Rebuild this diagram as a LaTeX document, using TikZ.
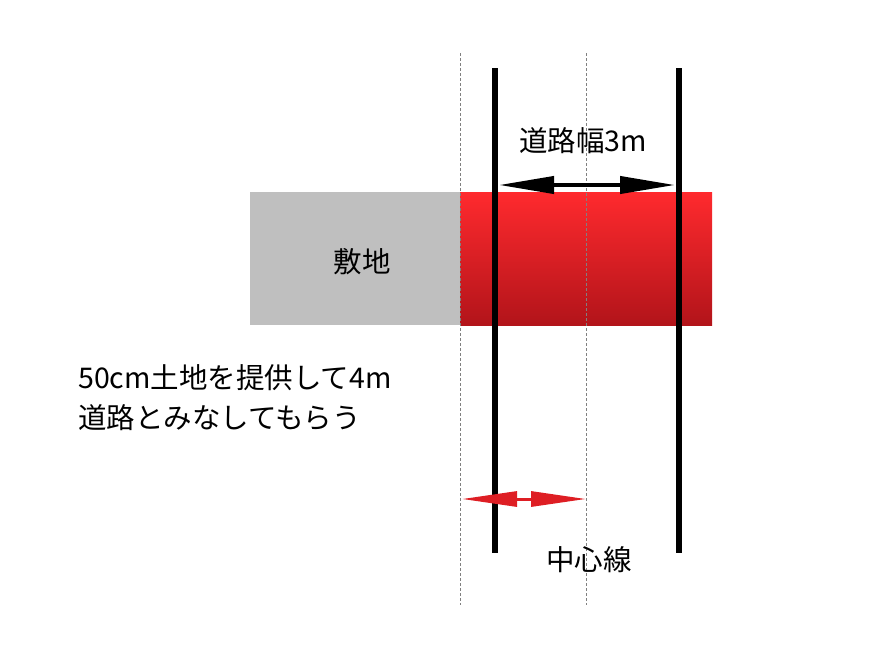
\documentclass[tikz,border=0pt]{standalone}
\usepackage{fontspec}
\setmainfont{Noto Sans CJK JP}
\usepackage{tikz}
\usetikzlibrary{positioning}
\usetikzlibrary{arrows.meta}
\definecolor{sitegray}{RGB}{191,191,191}
\definecolor{roadtop}{RGB}{255,42,46}
\definecolor{roadbottom}{RGB}{178,20,26}
\definecolor{giftred}{RGB}{222,30,36}

\begin{document}
\begin{tikzpicture}[x=1pt, y=-1pt, font=\fontsize{28.5}{34}\selectfont]
		\tikzset{site/.style={fill=sitegray, minimum width=210pt, minimum height=133pt, inner sep=0pt, outer sep=0pt}}
		\tikzset{road/.style={top color=roadtop, bottom color=roadbottom, minimum width=252pt, minimum height=133pt, inner sep=0pt, outer sep=0pt}}
		\tikzset{guide/.style={draw=gray, line width=0.6pt, dash pattern=on 3pt off 2pt}}
		\tikzset{edgeline/.style={draw=black, line width=6pt}}
		\tikzset{widthar/.style={draw=black, line width=4pt, {Triangle[length=55pt,width=17pt]}-{Triangle[length=55pt,width=17pt]}}}
		\tikzset{giftar/.style={draw=giftred, line width=3pt, {Triangle[length=55pt,width=15pt]}-{Triangle[length=55pt,width=15pt]}}}
		\useasboundingbox (0,0) rectangle (885,653);

		\node[site] (site) at (355,258.5) {};
		\node[road, right=0pt of site] (road) {};
		\node (sitename) at (362,262) {敷地};

		% center and boundary guides
		\coordinate (gl1) at (460,53);  \coordinate (gl2) at (460,605);
		\coordinate (gc1) at (586,53);  \coordinate (gc2) at (586,605);
		\draw[guide] (gl1) -- (gl2);
		\draw[guide] (gc1) -- (gc2);

		% road edges
		\coordinate (el1) at (495,68);  \coordinate (el2) at (495,553);
		\coordinate (er1) at (679,68);  \coordinate (er2) at (679,553);
		\draw[edgeline] (el1) -- (el2);
		\draw[edgeline] (er1) -- (er2);

		\coordinate (wl) at (499,185); \coordinate (wr) at (675,185);
		\draw[widthar] (wl) -- (wr);
		\node (width) at (583,141) {道路幅3m};

		\coordinate (gl) at (462,499); \coordinate (gr) at (586,499);
		\draw[giftar] (gl) -- (gr);
		\node (center) at (589,560) {中心線};

		\node[anchor=west, inner sep=0pt] (note1) at (78,378) {50cm土地を提供して4m};
		\node[anchor=west, inner sep=0pt] (note2) at (78,418) {道路とみなしてもらう};
	\end{tikzpicture}
\end{document}
